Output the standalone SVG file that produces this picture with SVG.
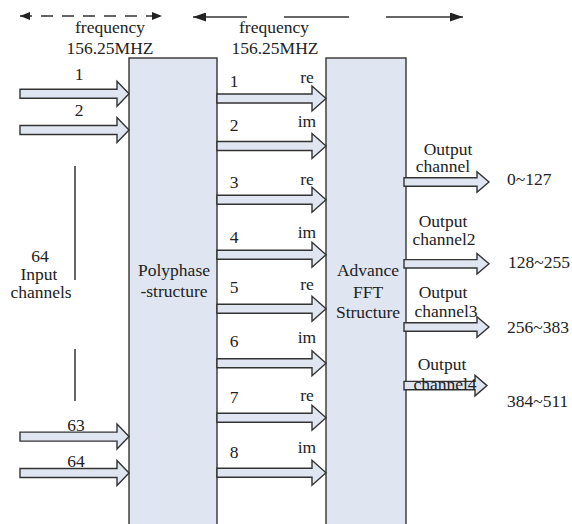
<svg xmlns="http://www.w3.org/2000/svg" width="572" height="524" viewBox="0 0 572 524" font-family="'Liberation Serif', 'Times New Roman', 'DejaVu Serif', serif">
<style>
text{font-family:'Liberation Serif','Times New Roman','DejaVu Serif',serif;font-size:17.5px;fill:#222}
.m{text-anchor:middle}
.box{fill:#dfe6f2;stroke:#333;stroke-width:1.4}
.ba{fill:#dfe6f2;stroke:#333;stroke-width:1.4;stroke-linejoin:miter}
.ln{stroke:#333;stroke-width:1.5;fill:none}
</style>
<defs>
<marker id="ah" viewBox="0 0 10 8" refX="10" refY="4" markerWidth="10" markerHeight="8" markerUnits="userSpaceOnUse" orient="auto-start-reverse"><path d="M0,0L10,4L0,8z" fill="#222"/></marker>
<marker id="ah2" viewBox="0 0 13 9" refX="13" refY="4.5" markerWidth="13" markerHeight="9" markerUnits="userSpaceOnUse" orient="auto-start-reverse"><path d="M0,0L13,4.5L0,9z" fill="#222"/></marker>
</defs>
<rect width="572" height="524" fill="#fff"/>
<g id="freq1">
<line class="ln" x1="20" y1="16" x2="162" y2="16" stroke-dasharray="12 9" marker-start="url(#ah)" marker-end="url(#ah)"/>
<text class="m" x="110" y="33">frequency</text>
<text class="m" x="110" y="54">156.25MHZ</text>
</g>
<g id="freq2">
<line class="ln" x1="193" y1="17" x2="247" y2="17" marker-start="url(#ah2)"/>
<line class="ln" x1="284" y1="17" x2="349" y2="17"/>
<line class="ln" x1="386" y1="17" x2="463" y2="17" marker-end="url(#ah2)"/>
<text class="m" x="274" y="33">frequency</text>
<text class="m" x="275" y="54">156.25MHZ</text>
</g>
<g id="polyphase">
<rect class="box" x="129" y="58" width="88" height="480"/>
<text class="m" x="174" y="276">Polyphase</text>
<text class="m" x="174" y="297">-structure</text>
</g>
<g id="fft">
<rect class="box" x="326" y="58" width="80" height="480"/>
<text class="m" x="368" y="276">Advance</text>
<text class="m" x="368" y="298">FFT</text>
<text class="m" x="368" y="318">Structure</text>
</g>
<g id="inputs">
<text class="m" x="40" y="262">64</text>
<text class="m" x="39" y="280">Input</text>
<text class="m" x="41" y="298">channels</text>
<line class="ln" x1="75" y1="166" x2="75" y2="280"/>
<line class="ln" x1="75" y1="349" x2="75" y2="401"/>
</g>
<g id="connectors">
<path class="ba" d="M20,89.2H117V81.2L129,93.7L117,106.2V98.2H20Z"/>
<path class="ba" d="M20,125.5H117V117.5L129,130L117,142.5V134.5H20Z"/>
<path class="ba" d="M20,432.1H117V424.1L129,436.6L117,449.1V441.1H20Z"/>
<path class="ba" d="M20,468.5H117V460.5L129,473L117,485.5V477.5H20Z"/>
<path class="ba" d="M217,94H312V86L326,98.5L312,111V103H217Z"/>
<path class="ba" d="M217,141.5H312V133.5L326,146L312,158.5V150.5H217Z"/>
<path class="ba" d="M217,195.2H312V187.2L326,199.7L312,212.2V204.2H217Z"/>
<path class="ba" d="M217,250.2H312V242.2L326,254.7L312,267.2V259.2H217Z"/>
<path class="ba" d="M217,304.3H312V296.3L326,308.8L312,321.3V313.3H217Z"/>
<path class="ba" d="M217,358.8H312V350.8L326,363.3L312,375.8V367.8H217Z"/>
<path class="ba" d="M217,413.3H312V405.3L326,417.8L312,430.3V422.3H217Z"/>
<path class="ba" d="M217,468.3H312V460.3L326,472.8L312,485.3V477.3H217Z"/>
<path class="ba" d="M404,177.8H477V171.7L489,182L477,192.3V186.2H404Z"/>
<path class="ba" d="M404,259.6H477V253.5L489,263.8L477,274.1V268H404Z"/>
<path class="ba" d="M404,322.8H477V316.7L489,327L477,337.3V331.2H404Z"/>
<path class="ba" d="M404,381.4H475V375.3L487,385.6L475,395.9V389.8H404Z"/>
</g>
<g id="labels">
<text class="m" x="79" y="80">1</text>
<text class="m" x="79" y="116">2</text>
<text class="m" x="76" y="431">63</text>
<text class="m" x="76" y="467">64</text>
<text class="m" x="234" y="87">1</text><text class="m" x="307" y="83">re</text>
<text class="m" x="234" y="131">2</text><text class="m" x="307" y="127">im</text>
<text class="m" x="234" y="188">3</text><text class="m" x="307" y="185">re</text>
<text class="m" x="234" y="243">4</text><text class="m" x="307" y="238">im</text>
<text class="m" x="234" y="293">5</text><text class="m" x="307" y="290">re</text>
<text class="m" x="234" y="347">6</text><text class="m" x="307" y="343">im</text>
<text class="m" x="234" y="403">7</text><text class="m" x="307" y="401">re</text>
<text class="m" x="234" y="458">8</text><text class="m" x="307" y="453">im</text>
</g>
<g id="out1">
<text class="m" x="448" y="155">Output</text>
<text class="m" x="443" y="172">channel</text>
<text x="507" y="185">0~127</text>
</g>
<g id="out2">
<text class="m" x="443" y="227">Output</text>
<text class="m" x="444" y="245">channel2</text>
<text x="508" y="268">128~255</text>
</g>
<g id="out3">
<text class="m" x="443" y="298">Output</text>
<text class="m" x="446" y="317">channel3</text>
<text x="507" y="333">256~383</text>
</g>
<g id="out4">
<text class="m" x="442" y="370">Output</text>
<text class="m" x="445" y="390">channel4</text>
<text x="507" y="407">384~511</text>
</g>
</svg>
